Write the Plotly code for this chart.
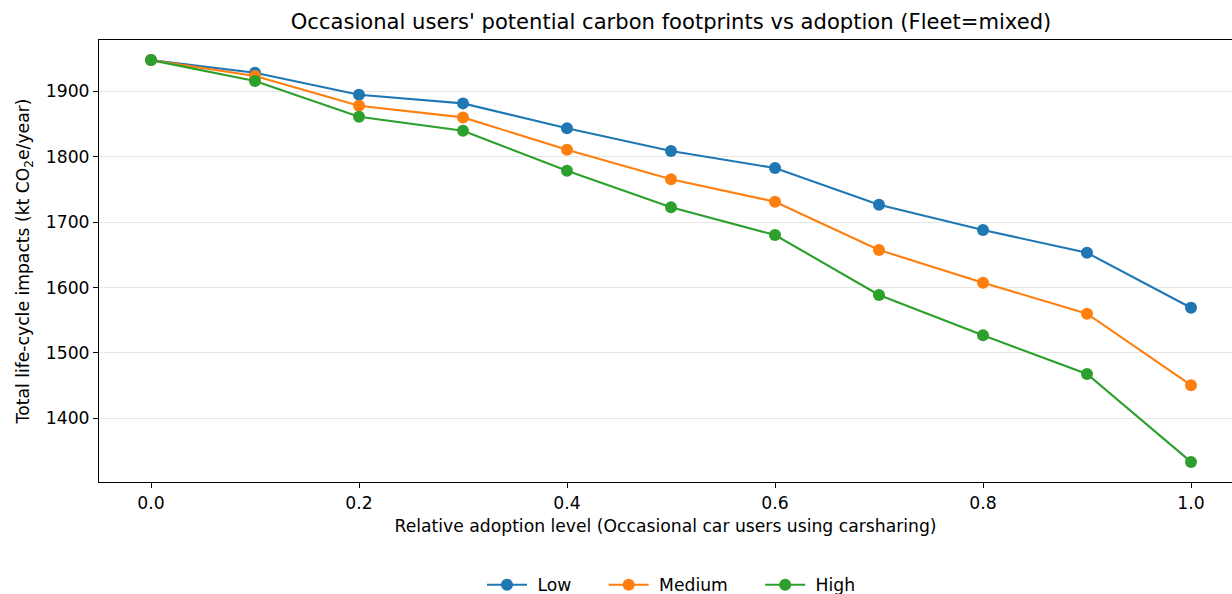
import plotly.graph_objects as go

# Relative adoption level (share of occasional car users switching to carsharing)
adoption = [0.0, 0.1, 0.2, 0.3, 0.4, 0.5, 0.6, 0.7, 0.8, 0.9, 1.0]

# Total life-cycle impacts, kt CO2e/year, per substitution scenario
low = [1947.3, 1928.0, 1894.4, 1881.2, 1843.1, 1808.4, 1782.4, 1726.4, 1687.8, 1653.0, 1569.0]
medium = [1947.3, 1922.9, 1877.6, 1859.8, 1810.5, 1765.2, 1731.0, 1657.3, 1607.3, 1560.0, 1450.7]
high = [1947.3, 1915.3, 1860.8, 1839.4, 1778.4, 1722.4, 1680.2, 1588.5, 1527.0, 1468.0, 1333.6]

series_names = ["Low", "Medium", "High"]
series_values = [low, medium, high]
series_colors = ["#1f77b4", "#ff7f0e", "#2ca02c"]

y_ticks = [1400, 1500, 1600, 1700, 1800, 1900]
x_ticks = [0.0, 0.2, 0.4, 0.6, 0.8, 1.0]

FONT = "DejaVu Sans"
W, H = 1232, 594
L, T, B = 99, 40, 112
NB = "\u00a0"  # spacing around horizontal legend entry labels

fig = go.Figure()
for name, vals, col in zip(series_names, series_values, series_colors):
    fig.add_trace(go.Scatter(
        x=adoption, y=vals, name=NB + name + NB * 5, mode="lines+markers",
        line=dict(color=col, width=2.1),
        marker=dict(color=col, size=12),
    ))

fig.update_layout(
    width=W, height=H,
    margin=dict(l=L, r=0, t=T, b=B, pad=0, autoexpand=False),
    paper_bgcolor="white", plot_bgcolor="white",
    font=dict(family=FONT, size=17.2, color="black"),
    title=dict(
        text="Occasional users' potential carbon footprints vs adoption (Fleet=mixed)",
        font=dict(family=FONT, size=21.1, color="black"),
        xref="container", x=671 / W, xanchor="center",
        yref="container", y=1 - 22 / H, yanchor="middle",
    ),
    showlegend=True,
    legend=dict(
        orientation="h",
        x=(685 - L) / (W - L), xanchor="center",
        y=(482 - 585) / (H - T - B), yanchor="middle",
        font=dict(family=FONT, size=17.2),
        itemwidth=40,
        bgcolor="rgba(0,0,0,0)",
    ),
)

fig.update_xaxes(
    range=[-0.05, -0.05 + 1.1 * (W - L) / 1144],
    tickvals=x_ticks, tickformat=".1f",
    showgrid=False, zeroline=False,
    showline=True, linecolor="black", linewidth=1, mirror=True,
    ticks="outside", ticklen=5, tickwidth=1, tickcolor="black",
    tickfont=dict(family=FONT, size=17.2),
    title=dict(text="Relative adoption level (Occasional car users using carsharing)",
               font=dict(family=FONT, size=17.2), standoff=8),
)
fig.update_yaxes(
    range=[1302.9, 1978.0],
    tickvals=y_ticks,
    showgrid=True, gridcolor="#e6e6e6", gridwidth=1, zeroline=False,
    showline=True, linecolor="black", linewidth=1, mirror=False,
    ticks="outside", ticklen=5, tickwidth=1, tickcolor="black",
    tickfont=dict(family=FONT, size=17.2),
    title=dict(text="Total life-cycle impacts (kt CO<sub>2</sub>e/year)",
               font=dict(family=FONT, size=17.2), standoff=11),
)

fig.write_html("out.html")
